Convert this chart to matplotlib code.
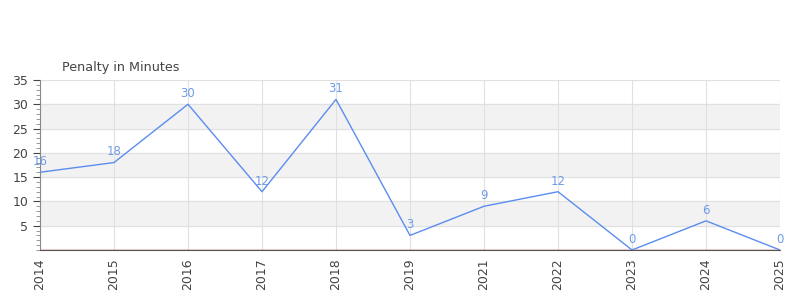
import matplotlib
matplotlib.use('Agg')
import matplotlib.pyplot as plt
from matplotlib.ticker import MultipleLocator

# data
years = ['2014', '2015', '2016', '2017', '2018', '2019',
         '2021', '2022', '2023', '2024', '2025']
penalty = [16, 18, 30, 12, 31, 3, 9, 12, 0, 6, 0]

line_color = '#5b8def'
label_color = '#6f9be8'
text_color = '#444444'

fig = plt.figure(figsize=(8, 3), dpi=100)
ax = fig.add_axes([0.05, 0.1667, 0.925, 0.5667])

x = list(range(len(years)))

# alternating bands
for lo in range(5, 35, 10):
    ax.axhspan(lo, lo + 5, color='#f2f2f2', zorder=0)

ax.plot(x, penalty, color=line_color, linewidth=1.0, zorder=3)
for xi, v in zip(x, penalty):
    ax.annotate(str(v), (xi, v), xytext=(0, 3), textcoords='offset points',
                ha='center', va='bottom', fontsize=8.5, color=label_color,
                zorder=4)

ax.set_xlim(0, len(years) - 1)
ax.set_ylim(0, 35)
ax.set_xticks(x)
ax.set_xticklabels(years, rotation=90, fontsize=9, color=text_color)
ax.yaxis.set_major_locator(MultipleLocator(5))
ax.yaxis.set_minor_locator(MultipleLocator(1))
ax.set_yticks([5, 10, 15, 20, 25, 30, 35])
ax.tick_params(axis='y', labelsize=9, colors=text_color, length=5, width=0.8)
ax.tick_params(axis='y', which='minor', length=3, color='#888888')
ax.tick_params(axis='x', length=0, pad=6)

ax.grid(True, which='major', color='#e0e0e0', linewidth=0.8, zorder=1)
ax.set_axisbelow(True)

for s in ['top', 'right']:
    ax.spines[s].set_visible(False)
ax.spines['left'].set_color('#888888')
ax.spines['bottom'].set_color('#555555')
ax.axhline(0, color='#cc0000', linewidth=1.0, zorder=2)

fig.text(62 / 800, 1 - 67 / 300, 'Penalty in Minutes', fontsize=9.2,
         color=text_color, ha='left', va='center')

fig.savefig('out.png', dpi=100)
